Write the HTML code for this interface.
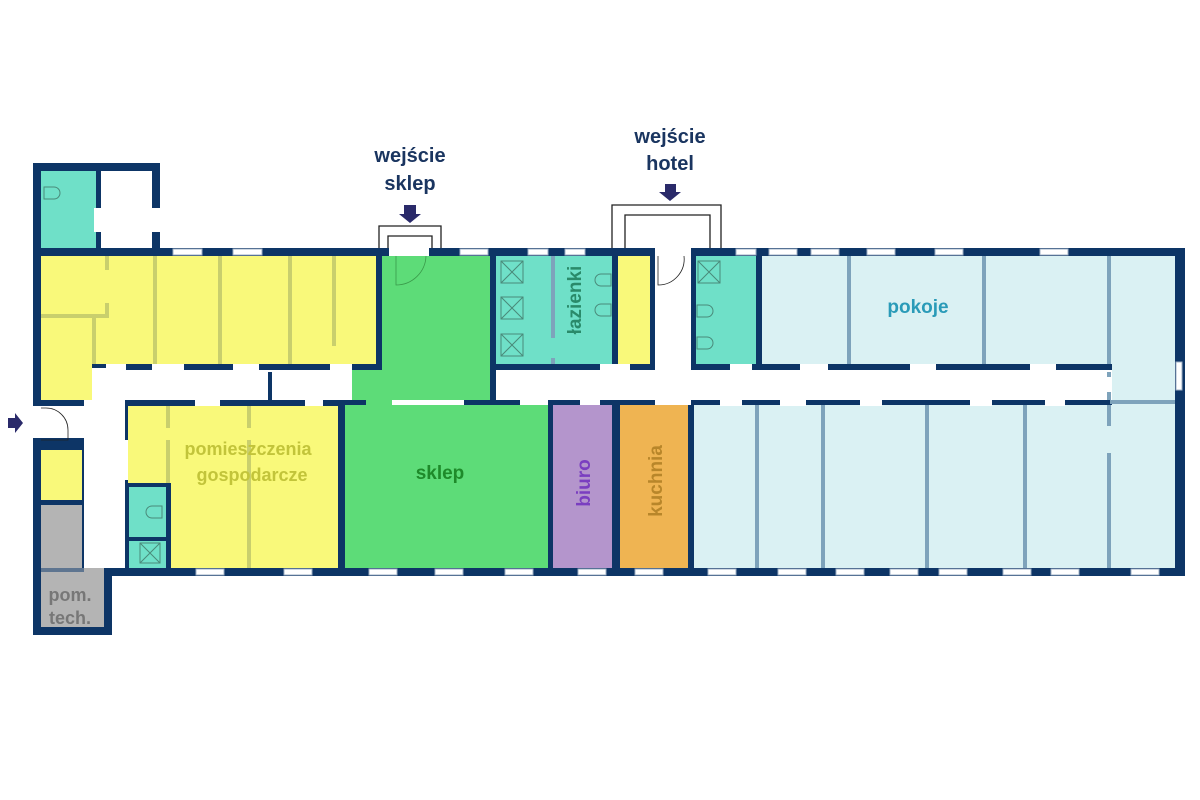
<!DOCTYPE html>
<html><head><meta charset="utf-8"><style>
html,body{margin:0;padding:0;background:#fff;width:1200px;height:800px;overflow:hidden}
svg{display:block}
text{font-family:"Liberation Sans",sans-serif;font-weight:bold}
</style></head><body>
<svg width="1200" height="800" viewBox="0 0 1200 800">
<rect width="1200" height="800" fill="#fff"/>
<rect x="33" y="248" width="1152" height="328" fill="#0d3566"/>
<rect x="33" y="163" width="127" height="93" fill="#0d3566"/>
<rect x="33" y="568" width="79" height="67" fill="#0d3566"/>
<rect x="41" y="171" width="55" height="77" fill="#6fe0c8"/>
<rect x="101" y="171" width="51" height="77" fill="#fff"/>
<rect x="94" y="208" width="66" height="24" fill="#fff"/>
<rect x="41" y="256" width="335" height="108" fill="#f9f97a"/>
<rect x="41" y="256" width="51" height="144" fill="#f9f97a"/>
<rect x="92" y="370" width="260" height="30" fill="#fff"/>
<rect x="84" y="400" width="41" height="168" fill="#fff"/>
<rect x="92" y="368" width="14" height="34" fill="#fff"/>
<rect x="268" y="372" width="4" height="28" fill="#0d3566"/>
<rect x="0" y="406" width="84" height="32" fill="#fff"/>
<rect x="33" y="440" width="8" height="4" fill="#0d3566"/>
<rect x="84" y="566" width="20" height="10" fill="#fff"/>
<rect x="41" y="450" width="41" height="50" fill="#f9f97a"/>
<rect x="41" y="505" width="41" height="63" fill="#b4b4b4"/>
<rect x="41" y="568" width="63" height="59" fill="#b4b4b4"/>
<rect x="41" y="568" width="43" height="4" fill="#5e7590"/>
<rect x="128" y="406" width="210" height="162" fill="#f9f97a"/>
<g fill="#c9cf6d">
<rect x="105" y="256" width="4" height="14"/><rect x="105" y="303" width="4" height="15"/><rect x="41" y="314" width="68" height="4"/>
<rect x="92" y="318" width="4" height="46"/><rect x="153" y="256" width="4" height="108"/><rect x="218" y="256" width="4" height="108"/><rect x="288" y="256" width="4" height="108"/><rect x="332" y="256" width="4" height="90"/>
<rect x="166" y="406" width="4" height="22"/><rect x="166" y="440" width="4" height="128"/><rect x="247" y="406" width="4" height="22"/><rect x="247" y="440" width="4" height="128"/>
</g>
<rect x="125" y="483" width="46" height="85" fill="#0d3566"/>
<rect x="129" y="487" width="37" height="50" fill="#6fe0c8"/>
<rect x="129" y="541" width="37" height="27" fill="#6fe0c8"/>
<rect x="382" y="256" width="108" height="144" fill="#5ddc78"/>
<rect x="352" y="370" width="40" height="30" fill="#5ddc78"/>
<rect x="345" y="405" width="203" height="163" fill="#5ddc78"/>
<rect x="366" y="400" width="70" height="5" fill="#5ddc78"/>
<rect x="496" y="256" width="116" height="108" fill="#6fe0c8"/>
<rect x="618" y="256" width="32" height="108" fill="#f9f97a"/>
<rect x="655" y="248" width="36" height="152" fill="#fff"/>
<rect x="696" y="256" width="60" height="108" fill="#6fe0c8"/>
<rect x="496" y="370" width="616" height="30" fill="#fff"/>
<rect x="553" y="405" width="59" height="163" fill="#b495cc"/>
<rect x="620" y="405" width="68" height="163" fill="#efb452"/>
<rect x="762" y="256" width="413" height="108" fill="#daf1f3"/>
<rect x="1112" y="256" width="63" height="312" fill="#daf1f3"/>
<rect x="694" y="405" width="481" height="163" fill="#daf1f3"/>
<g fill="#fff">
<rect x="106" y="364" width="20" height="7"/><rect x="152" y="364" width="32" height="7"/><rect x="233" y="364" width="26" height="7"/><rect x="330" y="364" width="22" height="7"/>
<rect x="195" y="400" width="25" height="6"/><rect x="305" y="400" width="18" height="6"/>
<rect x="392" y="400" width="72" height="5"/>
<rect x="520" y="400" width="28" height="5"/><rect x="600" y="364" width="30" height="6"/><rect x="580" y="400" width="20" height="5"/><rect x="655" y="400" width="36" height="5"/>
<rect x="730" y="364" width="22" height="7"/><rect x="800" y="364" width="28" height="7"/><rect x="910" y="364" width="26" height="7"/><rect x="1030" y="364" width="26" height="7"/>
<rect x="720" y="400" width="22" height="6"/><rect x="780" y="400" width="26" height="6"/><rect x="860" y="400" width="22" height="6"/><rect x="970" y="400" width="22" height="6"/><rect x="1045" y="400" width="20" height="6"/>
<rect x="1080" y="372" width="30" height="28"/>
<rect x="125" y="440" width="3" height="40" />
</g>
<g fill="#7ea3bb">
<rect x="551" y="256" width="4" height="82"/><rect x="551" y="358" width="4" height="6"/>
<rect x="847" y="256" width="4" height="108"/><rect x="982" y="256" width="4" height="108"/><rect x="1107" y="256" width="4" height="108"/>
<rect x="755" y="405" width="4" height="163"/><rect x="821" y="405" width="4" height="163"/><rect x="925" y="405" width="4" height="163"/><rect x="1023" y="405" width="4" height="163"/>
<rect x="1107" y="405" width="4" height="21"/><rect x="1107" y="453" width="4" height="115"/><rect x="1110" y="400" width="65" height="4"/>
<rect x="1107" y="372" width="4" height="5"/><rect x="1107" y="392" width="4" height="8"/>
</g>
<g fill="#fff" stroke="#9fb0c4" stroke-width="1">
<rect x="173" y="249" width="29" height="6"/><rect x="233" y="249" width="29" height="6"/><rect x="460" y="249" width="28" height="6"/><rect x="528" y="249" width="20" height="6"/><rect x="565" y="249" width="20" height="6"/><rect x="736" y="249" width="20" height="6"/>
<rect x="769" y="249" width="28" height="6"/><rect x="811" y="249" width="28" height="6"/><rect x="867" y="249" width="28" height="6"/><rect x="935" y="249" width="28" height="6"/><rect x="1040" y="249" width="28" height="6"/>
<rect x="196" y="569" width="28" height="6"/><rect x="284" y="569" width="28" height="6"/><rect x="369" y="569" width="28" height="6"/><rect x="435" y="569" width="28" height="6"/><rect x="505" y="569" width="28" height="6"/><rect x="578" y="569" width="28" height="6"/><rect x="635" y="569" width="28" height="6"/>
<rect x="708" y="569" width="28" height="6"/><rect x="778" y="569" width="28" height="6"/><rect x="836" y="569" width="28" height="6"/><rect x="890" y="569" width="28" height="6"/><rect x="939" y="569" width="28" height="6"/><rect x="1003" y="569" width="28" height="6"/><rect x="1051" y="569" width="28" height="6"/><rect x="1131" y="569" width="28" height="6"/>
<rect x="1176" y="362" width="6" height="28"/>
</g>
<rect x="389" y="248" width="40" height="8" fill="#fff"/>
<g fill="none" stroke="#222" stroke-width="1.3">
<path d="M379,248 V226 H441 V248"/><path d="M388,248 V236 H432 V248"/>
<path d="M612,248 V205 H721 V248"/><path d="M625,248 V215 H710 V248"/>
<path d="M396,256 V285 A30,30 0 0 0 426,256" stroke="#3a9a4a" stroke-width="0.8"/>
<path d="M658,256 V285 A26,26 0 0 0 684,256" stroke-width="0.8"/>
<path d="M41,408 H46 A22,22 0 0 1 68,430 V440 H41" stroke-width="0.8"/>
</g>
<g fill="#2a2a6a">
<path d="M404,205 H416 V214 H421 L410,223 L399,214 H404Z"/>
<path d="M665,184 H676 V192 H681 L670,201 L659,192 H665Z"/>
<path d="M8,418 H15 V413 L23,423 L15,433 V428 H8Z"/>
</g>
<g fill="none" stroke="#4a8a7a" stroke-width="1">
<rect x="501" y="261" width="22" height="22"/><path d="M501,261 L523,283 M523,261 L501,283"/>
<rect x="501" y="297" width="22" height="22"/><path d="M501,297 L523,319 M523,297 L501,319"/>
<rect x="501" y="334" width="22" height="22"/><path d="M501,334 L523,356 M523,334 L501,356"/>
<rect x="698" y="261" width="22" height="22"/><path d="M698,261 L720,283 M720,261 L698,283"/>
<rect x="140" y="543" width="20" height="20"/><path d="M140,543 L160,563 M160,543 L140,563"/>
<path d="M611,274 h-10 a6,6 0 0 0 0,12 h10z"/><path d="M611,304 h-10 a6,6 0 0 0 0,12 h10z"/>
<path d="M697,305 h10 a6,6 0 0 1 0,12 h-10z"/><path d="M697,337 h10 a6,6 0 0 1 0,12 h-10z"/>
<path d="M44,187 h10 a6,6 0 0 1 0,12 h-10z"/><path d="M162,506 h-10 a6,6 0 0 0 0,12 h10z"/>
</g>
<text x="410" y="162" font-size="20" fill="#1a3560" text-anchor="middle">wejście</text>
<text x="410" y="190" font-size="20" fill="#1a3560" text-anchor="middle">sklep</text>
<text x="670" y="143" font-size="20" fill="#1a3560" text-anchor="middle">wejście</text>
<text x="670" y="170" font-size="20" fill="#1a3560" text-anchor="middle">hotel</text>
<text x="918" y="313" font-size="19" fill="#2a9bb8" text-anchor="middle">pokoje</text>
<text x="440" y="479" font-size="19" fill="#1e8a2a" text-anchor="middle">sklep</text>
<text x="248" y="455" font-size="18" fill="#c2c43a" text-anchor="middle">pomieszczenia</text>
<text x="252" y="481" font-size="18" fill="#c2c43a" text-anchor="middle">gospodarcze</text>
<text transform="translate(590,483) rotate(-90)" font-size="19" fill="#7a3ec0" text-anchor="middle">biuro</text>
<text transform="translate(662,481) rotate(-90)" font-size="19" fill="#b8862a" text-anchor="middle">kuchnia</text>
<text transform="translate(581,300) rotate(-90)" font-size="19" fill="#2a8a6a" text-anchor="middle">łazienki</text>
<text x="70" y="601" font-size="18" fill="#777" text-anchor="middle">pom.</text>
<text x="70" y="624" font-size="18" fill="#777" text-anchor="middle">tech.</text>
</svg>
</body></html>
